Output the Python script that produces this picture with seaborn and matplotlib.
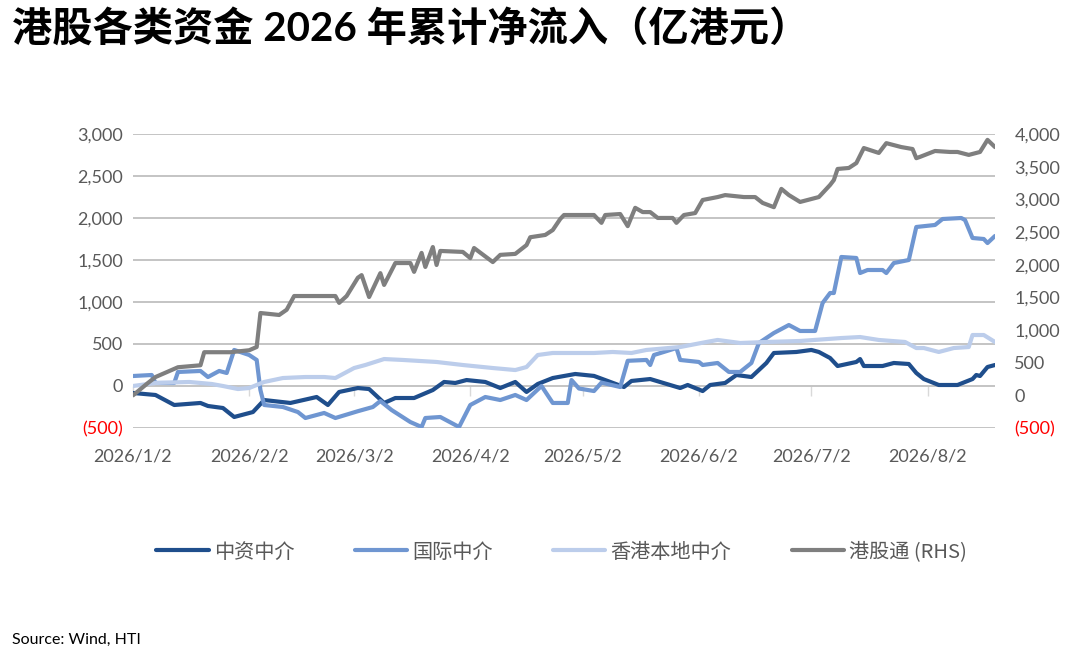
import matplotlib
matplotlib.use("Agg")
import matplotlib.pyplot as plt
import seaborn as sns
import pandas as pd

YEAR = "2026"
TITLE = "港股各类资金 2026 年累计净流入（亿港元）"
SOURCE = "Source: Wind, HTI"

# 中资中介 (LHS)
zz_dates = ["01-02", "01-08", "01-13", "01-20", "01-22", "01-26", "01-29", "02-03", "02-06", "02-13",
            "02-20", "02-23", "02-26", "03-03", "03-06", "03-10", "03-13", "03-18", "03-23", "03-26",
            "03-29", "04-01", "04-06", "04-10", "04-14", "04-17", "04-20", "04-24", "04-30", "05-05",
            "05-13", "05-15", "05-20", "05-28", "05-30", "06-03", "06-05", "06-09", "06-12", "06-16",
            "06-20", "06-22", "06-28", "07-02", "07-04", "07-07", "07-09", "07-14", "07-15", "07-16",
            "07-21", "07-24", "07-28", "07-30", "08-01", "08-05", "08-10", "08-14", "08-15", "08-16",
            "08-18", "08-20"]
zz_vals = [-83, -107, -226, -202, -238, -262, -369, -310, -167, -202,
           -131, -226, -71, -24, -36, -202, -143, -143, -48, 48,
           36, 71, 48, -24, 48, -71, 24, 95, 143, 120,
           -12, 60, 83, -24, 12, -60, 12, 36, 131, 107,
           274, 393, 405, 429, 405, 333, 238, 286, 321, 238,
           238, 274, 262, 155, 83, 12, 12, 83, 131, 119,
           226, 250]

# 国际中介 (LHS)
gj_dates = ["01-02", "01-07", "01-08", "01-13", "01-14", "01-20", "01-22", "01-25", "01-27", "01-29",
            "02-02", "02-04", "02-05", "02-06", "02-11", "02-15", "02-17", "02-22", "02-25", "03-03",
            "03-07", "03-09", "03-12", "03-17", "03-20", "03-21", "03-25", "03-30", "04-02", "04-06",
            "04-10", "04-14", "04-17", "04-21", "04-24", "04-28", "04-29", "05-01", "05-05", "05-07",
            "05-12", "05-14", "05-19", "05-20", "05-21", "05-27", "05-28", "06-02", "06-03", "06-07",
            "06-10", "06-13", "06-16", "06-18", "06-22", "06-26", "06-29", "07-03", "07-05", "07-07",
            "07-08", "07-10", "07-14", "07-15", "07-17", "07-21", "07-22", "07-24", "07-28", "07-30",
            "08-04", "08-06", "08-11", "08-12", "08-14", "08-17", "08-18", "08-20"]
gj_vals = [119, 131, 36, 36, 167, 179, 107, 179, 155, 429,
           369, 310, -48, -226, -250, -310, -381, -321, -381, -300,
           -250, -179, -286, -429, -488, -381, -369, -488, -226, -131,
           -167, -107, -167, 0, -202, -202, 71, -30, -60, 40,
           -12, 300, 310, 250, 369, 452, 310, 286, 250, 274,
           167, 167, 274, 512, 631, 726, 655, 655, 988, 1107,
           1107, 1536, 1524, 1345, 1381, 1381, 1345, 1464, 1500, 1893,
           1917, 1988, 2000, 1976, 1762, 1750, 1702, 1786]

# 香港本地中介 (LHS)
hk_dates = ["01-02", "01-08", "01-17", "01-23", "01-26", "01-30", "02-02", "02-06", "02-11", "02-17",
            "02-22", "02-25", "03-02", "03-05", "03-10", "03-15", "03-24", "03-31", "04-08", "04-14",
            "04-17", "04-20", "04-24", "05-05", "05-10", "05-15", "05-19", "05-28", "06-04", "06-07",
            "06-13", "06-20", "06-29", "07-10", "07-15", "07-20", "07-27", "07-30", "08-01", "08-05",
            "08-09", "08-13", "08-14", "08-17", "08-20"]
hk_vals = [0, 36, 48, 24, 0, -36, -24, 48, 95, 107,
           107, 95, 214, 250, 321, 310, 286, 250, 214, 190,
           226, 369, 393, 393, 405, 393, 429, 464, 524, 548,
           512, 524, 536, 571, 583, 548, 524, 452, 452, 405,
           452, 464, 607, 607, 524]

# 港股通 (RHS)
ggt_dates = ["01-02", "01-06", "01-08", "01-14", "01-20", "01-21", "01-28", "02-02", "02-04", "02-05",
             "02-10", "02-12", "02-14", "02-25", "02-26", "02-28", "03-03", "03-04", "03-06", "03-09",
             "03-10", "03-13", "03-17", "03-18", "03-20", "03-21", "03-23", "03-24", "03-25", "03-31",
             "04-02", "04-03", "04-08", "04-10", "04-14", "04-17", "04-18", "04-22", "04-24", "04-26",
             "04-27", "05-05", "05-07", "05-08", "05-12", "05-14", "05-16", "05-18", "05-20", "05-22",
             "05-26", "05-27", "05-29", "06-01", "06-03", "06-07", "06-09", "06-14", "06-17", "06-19",
             "06-22", "06-24", "06-26", "06-29", "07-02", "07-04", "07-07", "07-08", "07-09", "07-12",
             "07-14", "07-16", "07-20", "07-22", "07-26", "07-29", "07-30", "07-31", "08-04", "08-08",
             "08-10", "08-13", "08-16", "08-18", "08-20"]
ggt_vals = [0, 190, 280, 430, 460, 660, 660, 690, 740, 1260,
            1230, 1310, 1520, 1520, 1415, 1520, 1800, 1840, 1505, 1870,
            1690, 2025, 2025, 1890, 2180, 1965, 2270, 1995, 2210, 2195,
            2100, 2255, 2040, 2150, 2165, 2300, 2420, 2455, 2530, 2700,
            2760, 2760, 2640, 2760, 2775, 2590, 2870, 2805, 2805, 2715,
            2715, 2640, 2760, 2790, 2990, 3035, 3065, 3035, 3035, 2945,
            2880, 3160, 3065, 2960, 3005, 3035, 3220, 3295, 3465, 3480,
            3555, 3785, 3710, 3860, 3800, 3770, 3630, 3650, 3740, 3725,
            3725, 3680, 3725, 3910, 3800]

series_names = ["中资中介", "国际中介", "香港本地中介", "港股通 (RHS)"]
series_colors = ["#1F4E8C", "#6F96D1", "#BCCDEB", "#7F7F7F"]

x_tick_labels = ["2026/1/2", "2026/2/2", "2026/3/2", "2026/4/2",
                 "2026/5/2", "2026/6/2", "2026/7/2", "2026/8/2"]
left_ticks = [-500, 0, 500, 1000, 1500, 2000, 2500, 3000]
right_ticks = [-500, 0, 500, 1000, 1500, 2000, 2500, 3000, 3500, 4000]
x_start, x_end = "2026-01-02", "2026-08-20"


def to_dates(md):
    return pd.to_datetime([f"{YEAR}-{d}" for d in md])


def fmt(v):
    return f"({abs(v):,})" if v < 0 else f"{v:,}"


sns.set_theme(style="white")
plt.rcParams["font.family"] = ["Lato", "Noto Sans CJK SC", "DejaVu Sans"]

fig = plt.figure(figsize=(10.74, 6.57), dpi=100)
ax = fig.add_axes([133 / 1074, 1 - 428 / 657, (995 - 133) / 1074, (428 - 134) / 657])
ax2 = ax.twinx()

lw = 3.0
left_data = [(zz_dates, zz_vals), (gj_dates, gj_vals), (hk_dates, hk_vals)]
for (d, v), name, c in zip(left_data, series_names[:3], series_colors[:3]):
    df = pd.DataFrame({"date": to_dates(d), "value": v})
    sns.lineplot(data=df, x="date", y="value", ax=ax, color=c, lw=lw, label=name, legend=False)
dfg = pd.DataFrame({"date": to_dates(ggt_dates), "value": ggt_vals})
sns.lineplot(data=dfg, x="date", y="value", ax=ax2, color=series_colors[3], lw=lw,
             label=series_names[3], legend=False)

xlim = (pd.Timestamp(x_start), pd.Timestamp(x_end))
ax.set_xlim(*xlim)
ax.set_ylim(-500, 3000)
ax2.set_ylim(-500, 4000)

tick_pos = pd.to_datetime(x_tick_labels, format="%Y/%m/%d")
ax.set_xticks(tick_pos, x_tick_labels)
ax.set_yticks(left_ticks, [fmt(t) for t in left_ticks])
ax2.set_yticks(right_ticks, [fmt(t) for t in right_ticks])

for a in (ax, ax2):
    for s in a.spines.values():
        s.set_visible(False)
    a.set_xlabel("")
    a.set_ylabel("")

ax.grid(axis="y", color="#BFBFBF", lw=1.3)
ax.grid(axis="x", visible=False)
ax2.grid(False)
ax.tick_params(axis="x", length=0, pad=15, labelsize=13, labelcolor="#595959")
ax.tick_params(axis="y", length=0, pad=7, labelsize=13, labelcolor="#595959")
ax2.tick_params(axis="y", length=0, pad=14, labelsize=13, labelcolor="#595959")

for lbl in list(ax.get_yticklabels()) + list(ax2.get_yticklabels()):
    if lbl.get_text().startswith("("):
        lbl.set_color("#FF0000")

# small tick marks on the zero line
sec = ax.secondary_xaxis(500 / 3500)
sec.set_xticks(tick_pos)
sec.tick_params(axis="x", length=7, width=1, color="#D9D9D9", labelbottom=False)
for s in sec.spines.values():
    s.set_visible(False)

handles = ax.get_lines()[:3] + ax2.get_lines()[:1]
leg = fig.legend(handles, series_names, loc="center", bbox_to_anchor=(0.523, 1 - 552 / 657),
                 ncol=4, frameon=False, handlelength=2.6, handletextpad=0.25, columnspacing=3.0,
                 prop={"family": ["Noto Sans CJK SC", "DejaVu Sans"], "size": 14.5})
for t in leg.get_texts():
    t.set_color("#595959")

fig.text(12 / 1074, 1 - 28 / 657, TITLE, fontsize=29, fontweight="bold", va="center", ha="left",
         color="black", family=["Lato", "Noto Sans CJK SC", "DejaVu Sans"])
fig.text(12 / 1074, 1 - 640 / 657, SOURCE, fontsize=11.5, va="center", ha="left", color="black")

fig.savefig("out.png", dpi=100)
